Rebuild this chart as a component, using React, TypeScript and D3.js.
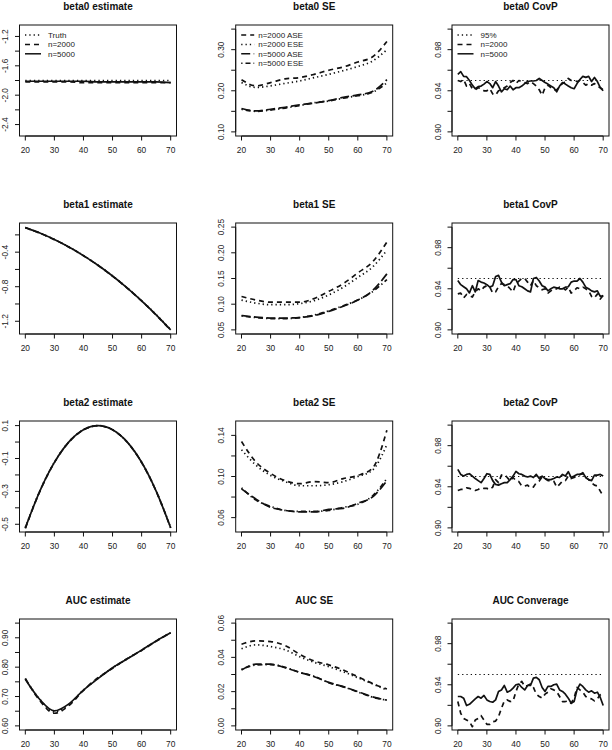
import React from 'react';
import * as d3 from 'd3';

// ---------- data ----------
const xCoarse = [20, 25, 30, 35, 40, 45, 50, 55, 60, 65, 70];
const xFine = d3.range(20, 71);
const xTicks = [20, 30, 40, 50, 60, 70];
const coverageTarget = 0.95;

// beta0 estimate
const b0Truth = [-1.80, -1.80, -1.80, -1.80, -1.80, -1.80, -1.80, -1.80, -1.80, -1.80, -1.80];
const b0Est2000 = [-1.82, -1.82, -1.82, -1.82, -1.83, -1.83, -1.83, -1.83, -1.83, -1.83, -1.83];
const b0Est5000 = [-1.81, -1.81, -1.81, -1.81, -1.81, -1.82, -1.82, -1.82, -1.82, -1.82, -1.83];

// beta1 estimate
const b1Truth = [-0.117, -0.179, -0.253, -0.340, -0.439, -0.551, -0.675, -0.812, -0.961, -1.123, -1.297];
const b1Est2000 = [-0.115, -0.180, -0.255, -0.342, -0.441, -0.553, -0.678, -0.815, -0.965, -1.128, -1.305];
const b1Est5000 = [-0.116, -0.179, -0.254, -0.341, -0.440, -0.552, -0.676, -0.813, -0.963, -1.125, -1.300];

// beta2 estimate
const b2Truth = [-0.520, -0.297, -0.123, 0.001, 0.075, 0.100, 0.075, 0.001, -0.123, -0.297, -0.520];
const b2Est2000 = [-0.525, -0.300, -0.125, 0.000, 0.074, 0.099, 0.074, 0.000, -0.124, -0.299, -0.523];
const b2Est5000 = [-0.522, -0.298, -0.124, 0.001, 0.075, 0.100, 0.075, 0.001, -0.123, -0.298, -0.521];

// AUC estimate
const aucTruth = [0.760, 0.690, 0.648, 0.674, 0.722, 0.762, 0.797, 0.828, 0.858, 0.889, 0.917];
const aucEst2000 = [0.762, 0.686, 0.643, 0.669, 0.721, 0.764, 0.796, 0.829, 0.857, 0.888, 0.918];
const aucEst5000 = [0.759, 0.690, 0.651, 0.675, 0.722, 0.761, 0.798, 0.828, 0.858, 0.889, 0.917];

// beta0 SE
const b0Ase2000 = [0.227, 0.212, 0.220, 0.229, 0.232, 0.240, 0.250, 0.258, 0.270, 0.282, 0.320];
const b0Ese2000 = [0.220, 0.208, 0.212, 0.218, 0.224, 0.232, 0.240, 0.249, 0.259, 0.272, 0.300];
const b0Ase5000 = [0.157, 0.151, 0.155, 0.160, 0.166, 0.170, 0.176, 0.184, 0.190, 0.198, 0.227];
const b0Ese5000 = [0.155, 0.150, 0.153, 0.158, 0.164, 0.171, 0.175, 0.182, 0.188, 0.196, 0.219];

// beta1 SE
const b1Ase2000 = [0.115, 0.108, 0.104, 0.104, 0.104, 0.111, 0.125, 0.140, 0.161, 0.182, 0.221];
const b1Ese2000 = [0.108, 0.102, 0.099, 0.099, 0.101, 0.107, 0.118, 0.133, 0.152, 0.172, 0.205];
const b1Ase5000 = [0.078, 0.075, 0.073, 0.073, 0.074, 0.078, 0.086, 0.096, 0.108, 0.126, 0.159];
const b1Ese5000 = [0.077, 0.074, 0.072, 0.072, 0.074, 0.079, 0.087, 0.097, 0.108, 0.124, 0.148];

// beta2 SE
const b2Ase2000 = [0.134, 0.114, 0.103, 0.096, 0.093, 0.095, 0.094, 0.098, 0.101, 0.108, 0.145];
const b2Ese2000 = [0.126, 0.111, 0.101, 0.095, 0.091, 0.091, 0.092, 0.095, 0.100, 0.106, 0.131];
const b2Ase5000 = [0.088, 0.078, 0.070, 0.067, 0.0655, 0.0655, 0.068, 0.069, 0.074, 0.080, 0.096];
const b2Ese5000 = [0.089, 0.077, 0.071, 0.067, 0.066, 0.066, 0.067, 0.070, 0.073, 0.081, 0.098];

// AUC SE
const aucAse2000 = [0.0477, 0.0496, 0.0492, 0.0469, 0.0418, 0.0379, 0.0356, 0.0326, 0.0287, 0.0248, 0.0215];
const aucEse2000 = [0.0450, 0.0473, 0.0463, 0.0444, 0.0404, 0.0371, 0.0346, 0.0316, 0.0281, 0.0246, 0.0209];
const aucAse5000 = [0.0326, 0.0360, 0.0360, 0.0340, 0.0313, 0.0287, 0.0254, 0.0229, 0.0200, 0.0170, 0.0150];
const aucEse5000 = [0.0330, 0.0355, 0.0358, 0.0342, 0.0312, 0.0290, 0.0252, 0.0228, 0.0198, 0.0168, 0.0150];

// coverage probabilities (x = 20..70)
const b0Cov2000 = [0.950, 0.949, 0.951, 0.9446, 0.947, 0.942, 0.941, 0.943, 0.942, 0.940, 0.940, 0.942, 0.937, 0.9358, 0.940, 0.941, 0.943, 0.9446, 0.948, 0.950, 0.947, 0.950, 0.949, 0.948, 0.947, 0.949, 0.947, 0.9446, 0.941, 0.9358, 0.943, 0.9455, 0.943, 0.941, 0.9407, 0.9446, 0.947, 0.949, 0.952, 0.950, 0.950, 0.949, 0.950, 0.948, 0.9455, 0.947, 0.9455, 0.947, 0.9446, 0.943, 0.941];
const b0Cov5000 = [0.956, 0.9586, 0.954, 0.9537, 0.950, 0.9455, 0.942, 0.944, 0.9446, 0.9465, 0.949, 0.947, 0.943, 0.949, 0.9446, 0.939, 0.942, 0.941, 0.9446, 0.941, 0.943, 0.943, 0.9446, 0.947, 0.949, 0.9495, 0.9495, 0.950, 0.952, 0.950, 0.948, 0.9465, 0.9446, 0.943, 0.939, 0.9446, 0.948, 0.9465, 0.9446, 0.943, 0.942, 0.947, 0.951, 0.954, 0.953, 0.954, 0.949, 0.953, 0.949, 0.943, 0.940];
const b1Cov2000 = [0.935, 0.9358, 0.931, 0.9345, 0.9335, 0.932, 0.937, 0.940, 0.938, 0.9416, 0.943, 0.9416, 0.9358, 0.937, 0.942, 0.945, 0.944, 0.943, 0.940, 0.937, 0.945, 0.9475, 0.950, 0.950, 0.9465, 0.943, 0.948, 0.943, 0.941, 0.939, 0.940, 0.9358, 0.938, 0.940, 0.940, 0.9416, 0.941, 0.939, 0.9416, 0.9358, 0.938, 0.941, 0.940, 0.9416, 0.940, 0.938, 0.9325, 0.931, 0.935, 0.930, 0.9335];
const b1Cov5000 = [0.948, 0.944, 0.942, 0.940, 0.936, 0.943, 0.937, 0.948, 0.9465, 0.9456, 0.944, 0.9416, 0.943, 0.952, 0.953, 0.9465, 0.943, 0.944, 0.945, 0.949, 0.949, 0.943, 0.942, 0.940, 0.938, 0.937, 0.950, 0.951, 0.9475, 0.943, 0.9416, 0.938, 0.940, 0.9416, 0.941, 0.940, 0.940, 0.9416, 0.942, 0.9465, 0.9475, 0.9475, 0.950, 0.9465, 0.9416, 0.940, 0.938, 0.937, 0.938, 0.9325, 0.9335];
const b2Cov2000 = [0.9364, 0.9374, 0.9374, 0.939, 0.9384, 0.9374, 0.9364, 0.9374, 0.939, 0.9384, 0.9384, 0.9374, 0.9397, 0.947, 0.944, 0.9514, 0.952, 0.949, 0.9456, 0.949, 0.946, 0.945, 0.9407, 0.9407, 0.9416, 0.939, 0.9397, 0.944, 0.9456, 0.9495, 0.948, 0.946, 0.946, 0.9456, 0.9397, 0.9423, 0.9456, 0.946, 0.9504, 0.948, 0.949, 0.9504, 0.952, 0.9527, 0.949, 0.947, 0.944, 0.9416, 0.9407, 0.9358, 0.9309];
const b2Cov5000 = [0.957, 0.952, 0.9504, 0.952, 0.9527, 0.9504, 0.948, 0.946, 0.944, 0.948, 0.9527, 0.952, 0.946, 0.9423, 0.9416, 0.943, 0.944, 0.944, 0.947, 0.9504, 0.955, 0.9527, 0.952, 0.9504, 0.9495, 0.9504, 0.949, 0.952, 0.948, 0.9504, 0.948, 0.947, 0.947, 0.948, 0.9495, 0.949, 0.952, 0.9504, 0.9547, 0.949, 0.9504, 0.952, 0.952, 0.9537, 0.949, 0.947, 0.946, 0.9514, 0.9514, 0.952, 0.9504];
const aucCov2000 = [0.9237, 0.9122, 0.9073, 0.9057, 0.9041, 0.8992, 0.9057, 0.9073, 0.910, 0.9057, 0.9015, 0.9015, 0.9041, 0.9047, 0.909, 0.9171, 0.9243, 0.9253, 0.9237, 0.9243, 0.9335, 0.9407, 0.9433, 0.9384, 0.9393, 0.9407, 0.9374, 0.9309, 0.9286, 0.927, 0.9309, 0.9328, 0.9361, 0.935, 0.9335, 0.9286, 0.9237, 0.9237, 0.9243, 0.922, 0.927, 0.9374, 0.935, 0.9328, 0.9286, 0.927, 0.9263, 0.9243, 0.9263, 0.9302, 0.9318];
const aucCov5000 = [0.9286, 0.9286, 0.927, 0.9198, 0.921, 0.9237, 0.9263, 0.9286, 0.927, 0.9296, 0.9253, 0.9237, 0.923, 0.9253, 0.9335, 0.935, 0.9393, 0.9328, 0.9341, 0.9367, 0.940, 0.9407, 0.9374, 0.935, 0.9393, 0.9393, 0.9465, 0.9472, 0.9449, 0.9374, 0.9335, 0.9384, 0.9384, 0.940, 0.9407, 0.935, 0.9335, 0.9309, 0.927, 0.922, 0.9237, 0.935, 0.9407, 0.9384, 0.935, 0.9328, 0.9341, 0.9318, 0.9328, 0.9276, 0.9198];

// ---------- styling ----------
const DASH: Record<string, string | undefined> = {
  solid: undefined,
  dashed: '5,4',
  dotted: '1.3,3',
  longdash: '9,3.5',
  dotdash: '1.3,3,5,3',
};
const FONT = '"Liberation Sans", Arial, Helvetica, sans-serif';

const colX = [19.5, 235.7, 452];
const rowY = [25, 223, 421, 619];
const W = 157;
const H = 111;

type S = { x: number[]; y: number[]; lty: string; smooth?: boolean; lw?: number };
type Leg = { label: string; lty: string }[];
type P = {
  title: string;
  ylim: [number, number];
  ticks: number[];
  labeled: number[];
  fmt: (v: number) => string;
  series: S[];
  legend?: Leg;
  legendText?: number;
  legendSeg?: number;
};

const f1 = (v: number) => d3.format('.1f')(v).replace('−', '-');
const f2 = (v: number) => d3.format('.2f')(v).replace('−', '-');
const covTicks = [0.9, 0.92, 0.94, 0.96, 0.98, 1.0];
const covLabeled = [0.9, 0.94, 0.98];

const estSeries = (t: number[], a: number[], b: number[]): S[] => [
  { x: xCoarse, y: t, lty: 'dotted', smooth: true },
  { x: xCoarse, y: a, lty: 'dashed', smooth: true },
  { x: xCoarse, y: b, lty: 'solid', smooth: true },
];
const seSeries = (a: number[], b: number[], c: number[], d: number[]): S[] => [
  { x: xCoarse, y: a, lty: 'dashed', smooth: true },
  { x: xCoarse, y: b, lty: 'dotted', smooth: true },
  { x: xCoarse, y: c, lty: 'longdash', smooth: true },
  { x: xCoarse, y: d, lty: 'dotdash', smooth: true },
];
const covSeries = (a: number[], b: number[]): S[] => [
  { x: [20, 70], y: [coverageTarget, coverageTarget], lty: 'dotted', lw: 1.2 },
  { x: xFine, y: a, lty: 'dashed' },
  { x: xFine, y: b, lty: 'solid' },
];

const panels: P[][] = [
  [
    {
      title: 'beta0 estimate', ylim: [-2.5, -1.1],
      ticks: [-2.4, -2.2, -2.0, -1.8, -1.6, -1.4, -1.2], labeled: [-2.4, -2.0, -1.6, -1.2], fmt: f1,
      series: estSeries(b0Truth, b0Est2000, b0Est5000),
      legend: [{ label: 'Truth', lty: 'dotted' }, { label: 'n=2000', lty: 'dashed' }, { label: 'n=5000', lty: 'solid' }],
      legendText: 28.5, legendSeg: 16,
    },
    {
      title: 'beta0 SE', ylim: [0.1, 0.35],
      ticks: [0.1, 0.15, 0.2, 0.25, 0.3, 0.35], labeled: [0.1, 0.2, 0.3], fmt: f2,
      series: seSeries(b0Ase2000, b0Ese2000, b0Ase5000, b0Ese5000),
      legend: [
        { label: 'n=2000 ASE', lty: 'dashed' }, { label: 'n=2000 ESE', lty: 'dotted' },
        { label: 'n=5000 ASE', lty: 'longdash' }, { label: 'n=5000 ESE', lty: 'dotdash' },
      ],
      legendText: 22.5, legendSeg: 13,
    },
    {
      title: 'beta0 CovP', ylim: [0.9, 1.0], ticks: covTicks, labeled: covLabeled, fmt: f2,
      series: covSeries(b0Cov2000, b0Cov5000),
      legend: [{ label: '95%', lty: 'dotted' }, { label: 'n=2000', lty: 'dashed' }, { label: 'n=5000', lty: 'solid' }],
      legendText: 28.5, legendSeg: 16,
    },
  ],
  [
    {
      title: 'beta1 estimate', ylim: [-1.3, -0.11],
      ticks: [-1.2, -1.0, -0.8, -0.6, -0.4, -0.2], labeled: [-1.2, -0.8, -0.4], fmt: f1,
      series: estSeries(b1Truth, b1Est2000, b1Est5000),
    },
    {
      title: 'beta1 SE', ylim: [0.05, 0.25],
      ticks: [0.05, 0.1, 0.15, 0.2, 0.25], labeled: [0.05, 0.1, 0.15, 0.2, 0.25], fmt: f2,
      series: seSeries(b1Ase2000, b1Ese2000, b1Ase5000, b1Ese5000),
    },
    {
      title: 'beta1 CovP', ylim: [0.9, 1.0], ticks: covTicks, labeled: covLabeled, fmt: f2,
      series: covSeries(b1Cov2000, b1Cov5000),
    },
  ],
  [
    {
      title: 'beta2 estimate', ylim: [-0.522, 0.103],
      ticks: [-0.5, -0.4, -0.3, -0.2, -0.1, 0.0, 0.1], labeled: [-0.5, -0.3, -0.1, 0.1], fmt: f1,
      series: estSeries(b2Truth, b2Est2000, b2Est5000),
    },
    {
      title: 'beta2 SE', ylim: [0.05, 0.15],
      ticks: [0.06, 0.08, 0.1, 0.12, 0.14], labeled: [0.06, 0.1, 0.14], fmt: f2,
      series: seSeries(b2Ase2000, b2Ese2000, b2Ase5000, b2Ese5000),
    },
    {
      title: 'beta2 CovP', ylim: [0.9, 1.0], ticks: covTicks, labeled: covLabeled, fmt: f2,
      series: covSeries(b2Cov2000, b2Cov5000),
    },
  ],
  [
    {
      title: 'AUC estimate', ylim: [0.6, 0.95],
      ticks: [0.6, 0.65, 0.7, 0.75, 0.8, 0.85, 0.9, 0.95], labeled: [0.6, 0.7, 0.8, 0.9], fmt: f2,
      series: estSeries(aucTruth, aucEst2000, aucEst5000),
    },
    {
      title: 'AUC SE', ylim: [0, 0.06],
      ticks: [0, 0.01, 0.02, 0.03, 0.04, 0.05, 0.06], labeled: [0, 0.02, 0.04, 0.06], fmt: f2,
      series: seSeries(aucAse2000, aucEse2000, aucAse5000, aucEse5000),
    },
    {
      title: 'AUC Converage', ylim: [0.9, 1.0], ticks: covTicks, labeled: covLabeled, fmt: f2,
      series: covSeries(aucCov2000, aucCov5000),
    },
  ],
];

function Panel({ p, x0, y0 }: { p: P; x0: number; y0: number }) {
  const xs = d3.scaleLinear().domain([18, 72]).range([x0, x0 + W]);
  const r = p.ylim[1] - p.ylim[0];
  const ys = d3.scaleLinear().domain([p.ylim[0] - 0.04 * r, p.ylim[1] + 0.04 * r]).range([y0 + H, y0]);
  const tick = 4.5;
  const ink = '#111';
  return (
    <g>
      <text x={x0 + W / 2} y={y0 - 15.5} textAnchor="middle" fontFamily={FONT} fontWeight="bold" fontSize={10} fill={ink}>
        {p.title}
      </text>
      {p.series.map((s, i) => {
        const line = d3
          .line<number>()
          .x((_, j) => xs(s.x[j]))
          .y((v) => ys(v))
          .curve(s.smooth ? d3.curveMonotoneX : d3.curveLinear);
        return (
          <path key={i} d={line(s.y) || ''} fill="none" stroke={ink}
            strokeWidth={s.lw ?? 1.7} strokeDasharray={DASH[s.lty]} strokeLinejoin="round" />
        );
      })}
      <rect x={x0} y={y0} width={W} height={H} fill="none" stroke={ink} strokeWidth={1} />
      <line x1={xs(xTicks[0])} x2={xs(xTicks[xTicks.length - 1])} y1={y0 + H} y2={y0 + H} stroke={ink} strokeWidth={1} />
      {xTicks.map((t) => (
        <g key={t}>
          <line x1={xs(t)} x2={xs(t)} y1={y0 + H} y2={y0 + H + tick} stroke={ink} strokeWidth={1} />
          <text x={xs(t)} y={y0 + H + 17} textAnchor="middle" fontFamily={FONT} fontSize={8.4} fill="#222">
            {t}
          </text>
        </g>
      ))}
      <line x1={x0} x2={x0} y1={ys(p.ticks[0])} y2={ys(p.ticks[p.ticks.length - 1])} stroke={ink} strokeWidth={1} />
      {p.ticks.map((t) => (
        <line key={t} x1={x0 - tick} x2={x0} y1={ys(t)} y2={ys(t)} stroke={ink} strokeWidth={1} />
      ))}
      {p.labeled.map((t) => (
        <text key={t} transform={`translate(${x0 - 11.5},${ys(t)}) rotate(-90)`} textAnchor="middle"
          fontFamily={FONT} fontSize={8.4} fill="#222">
          {p.fmt(t)}
        </text>
      ))}
      {p.legend &&
        p.legend.map((l, i) => {
          const ly = y0 + 10 + i * 9.4;
          return (
            <g key={l.label}>
              <line x1={x0 + 5.5} x2={x0 + 5.5 + (p.legendSeg ?? 16)} y1={ly} y2={ly} stroke={ink}
                strokeWidth={1.5} strokeDasharray={DASH[l.lty]} />
              <text x={x0 + (p.legendText ?? 28)} y={ly + 3} fontFamily={FONT} fontSize={8} fill="#222">
                {l.label}
              </text>
            </g>
          );
        })}
    </g>
  );
}

export default function App() {
  return (
    <svg width={612} height={750} viewBox="0 0 612 750"
      style={{ position: 'absolute', left: 0, top: 0, background: '#fff' }}>
      <rect x={0} y={0} width={612} height={750} fill="#fff" />
      {panels.map((row, ri) =>
        row.map((p, ci) => <Panel key={`${ri}-${ci}`} p={p} x0={colX[ci]} y0={rowY[ri]} />)
      )}
    </svg>
  );
}
